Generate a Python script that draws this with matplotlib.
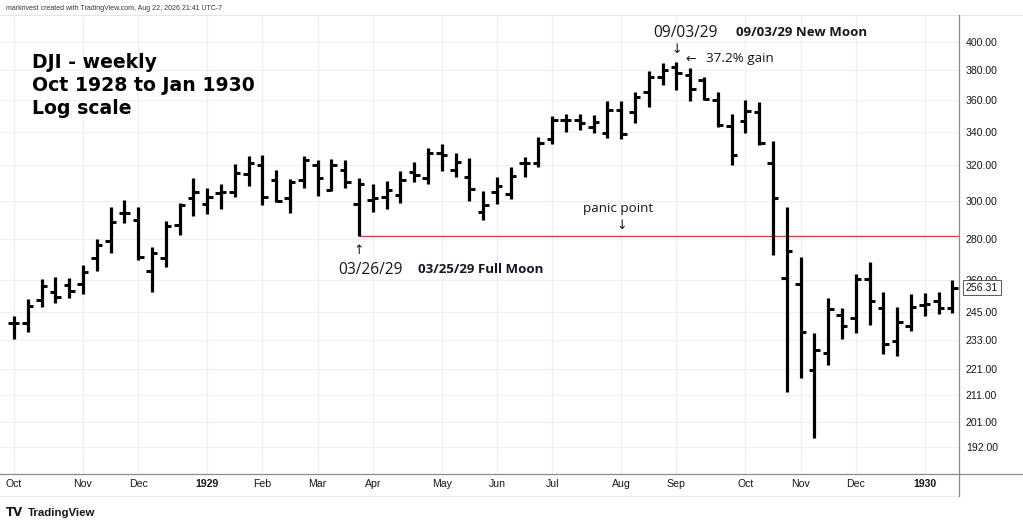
import matplotlib
matplotlib.use("Agg")
import matplotlib.pyplot as plt
import numpy as np
import pandas as pd
from matplotlib.lines import Line2D
from matplotlib.ticker import FixedLocator, NullLocator

# DJI weekly bars, Oct 1928 - Jan 1930
weeks = pd.date_range("1928-10-01", periods=69, freq="W-MON")

opens = [240.2, 240.2, 250.6, 254.1, 257.5, 257.8, 270.3, 279.0, 293.5, 289.7,
         264.2, 270.5, 287.1, 301.3, 298.0, 304.4, 304.9, 314.7, 320.0, 311.5,
         301.3, 311.5, 320.0, 305.9, 317.2, 298.0, 300.4, 301.8, 303.1, 316.2,
         312.4, 326.9, 317.2, 313.0, 294.1, 304.9, 303.5, 321.0, 321.0, 335.3,
         347.3, 347.3, 342.7, 339.0, 353.6, 352.5, 365.5, 375.6, 382.5, 376.8,
         373.4, 360.1, 343.5, 346.6, 352.5, 321.0, 260.9, 258.0, 220.7, 227.7,
         243.8, 242.4, 260.3, 246.8, 232.6, 239.2, 248.3, 250.1, 246.8]
highs = [243.5, 251.0, 260.2, 261.4, 260.6, 267.0, 279.7, 296.4, 300.4, 296.7,
         276.0, 289.3, 298.6, 312.8, 306.8, 309.0, 320.4, 325.3, 325.9, 317.2,
         311.9, 325.3, 323.0, 323.5, 323.0, 312.4, 309.0, 311.1, 316.6, 321.6,
         330.2, 332.5, 327.3, 324.0, 305.5, 313.3, 318.7, 324.5, 336.5, 350.1,
         351.1, 351.1, 350.4, 359.6, 359.6, 365.5, 379.7, 384.8, 386.1, 381.4,
         375.6, 365.5, 351.1, 360.1, 359.0, 334.3, 296.4, 270.7, 236.1, 251.6,
         247.1, 262.5, 268.3, 254.1, 247.5, 253.2, 253.6, 254.4, 259.8]
lows = [233.5, 236.6, 247.3, 249.1, 251.3, 253.3, 264.2, 272.7, 287.9, 269.4,
        254.1, 265.9, 282.0, 291.8, 292.7, 295.5, 302.2, 308.3, 297.7, 299.4,
        293.2, 307.1, 302.7, 305.3, 307.1, 281.5, 293.7, 295.5, 298.6, 310.5,
        309.2, 316.8, 313.3, 300.0, 289.7, 298.2, 300.8, 313.3, 319.1, 332.2,
        340.0, 341.0, 339.3, 335.9, 335.3, 345.6, 355.3, 370.0, 366.7, 359.4,
        360.1, 343.1, 320.0, 339.3, 331.9, 271.9, 212.0, 217.4, 195.0, 222.7,
        233.5, 235.9, 239.5, 227.1, 226.5, 236.9, 243.5, 244.2, 244.6]
closes = [240.5, 247.9, 257.2, 251.8, 254.8, 263.8, 276.8, 288.5, 293.2, 271.0,
          273.0, 286.5, 297.7, 304.9, 301.8, 304.9, 315.3, 321.0, 302.2, 299.8,
          310.5, 323.0, 312.4, 320.0, 310.5, 309.0, 301.3, 305.9, 311.5, 314.3,
          326.9, 325.9, 322.0, 306.3, 297.7, 308.1, 313.7, 321.4, 332.9, 347.3,
          347.0, 345.2, 346.2, 353.6, 338.6, 362.2, 375.6, 380.2, 377.9, 367.1,
          360.5, 344.1, 325.9, 353.2, 333.2, 301.6, 273.9, 236.6, 228.9, 246.5,
          239.0, 260.3, 250.1, 231.2, 240.9, 247.5, 248.6, 246.8, 256.31]

price_ticks = [192, 201, 211, 221, 233, 245, 260, 280, 300, 320, 340, 360, 380, 400]
title_lines = ["DJI - weekly", "Oct 1928 to Jan 1930", "Log scale"]
panic_idx = 25   # week of 03/26/29 (low = panic point)
top_idx = 48     # week of 09/03/29 (top)

W, H = 1023, 530
INK = "#131722"
ANNOT_FONT = ["Open Sans", "DejaVu Sans"]
AXIS_FONT = ["Liberation Sans", "DejaVu Sans"]


def pt(px):
    return px * 0.72


fig = plt.figure(figsize=(W / 100, H / 100), dpi=100)
fig.patch.set_facecolor("white")
ax = fig.add_axes([0, 56 / H, 959 / W, 459 / H])

x = np.arange(len(weeks))

# OHLC bars
ax.vlines(x, lows, highs, colors="black", linewidth=2.3, capstyle="butt", zorder=3)
ax.hlines(opens, x - 0.4, x, colors="black", linewidth=2.1, zorder=3)
ax.hlines(closes, x, x + 0.4, colors="black", linewidth=2.1, zorder=3)

# panic point line from the 03/26/29 low
panic = lows[panic_idx]
ax.hlines(panic, panic_idx, 80, colors="#f23645", linewidth=1.0, zorder=2)

ax.set_yscale("log")
ax.set_ylim(182.8, 420.1)
ax.set_xlim(-1.01, 68.48)

# y axis on the right
ax.yaxis.tick_right()
ax.yaxis.set_major_locator(FixedLocator(price_ticks))
ax.yaxis.set_minor_locator(NullLocator())
ax.set_yticklabels([f"{v:.2f}" for v in price_ticks], family=AXIS_FONT,
                   fontsize=7.6, color=INK)
ax.tick_params(axis="y", length=0, pad=pt(7))

# month ticks at first bar of each month
tick_pos, tick_lab = [], []
for i, d in enumerate(weeks):
    if i == 0 or d.month != weeks[i - 1].month:
        tick_pos.append(i)
        tick_lab.append(str(d.year) if d.month == 1 else d.strftime("%b"))
ax.set_xticks(tick_pos)
ax.set_xticklabels(tick_lab, family=AXIS_FONT, fontsize=7.6, color=INK)
for lab in ax.get_xticklabels():
    if lab.get_text().isdigit():
        lab.set_fontweight("bold")
ax.tick_params(axis="x", length=0, pad=pt(5))

ax.grid(True, color="#f0f0f0", linewidth=0.9, zorder=0)
ax.set_axisbelow(True)
for s in ax.spines.values():
    s.set_visible(False)


# frame lines (pixel coordinates of the layout)
def fig_line(x0, y0, x1, y1, color, lw=1.0):
    fig.add_artist(Line2D([x0 / W, x1 / W], [1 - y0 / H, 1 - y1 / H],
                          transform=fig.transFigure, color=color, linewidth=lw))


fig_line(0, 15, W, 15, "#e6e6e6", 0.8)
fig_line(0, 474, W, 474, "#8c8c8c", 0.9)
fig_line(0, 496, 959, 496, "#ececec", 0.8)
fig_line(959, 15, 959, 496, "#8c8c8c", 0.9)

# last price box (drawn over the 260 label, as in the source)
ax.annotate(f"{closes[-1]:.2f}", xy=(1, closes[-1]), xycoords=("axes fraction", "data"),
            xytext=(pt(7), 0), textcoords="offset points", ha="left", va="center",
            family=AXIS_FONT, fontsize=7.6, color=INK, zorder=10, annotation_clip=False,
            bbox=dict(boxstyle="square,pad=0.25", fc="white", ec="#555555", lw=0.7))

# title block
for k, line in enumerate(title_lines):
    fig.text(32 / W, 1 - (68.5 + 22.5 * k) / H, line, ha="left", va="baseline",
             family="DejaVu Sans", fontweight="bold", fontsize=13.6, color="black")


# annotations anchored to the bars
def note(text, xi, yv, dx, dy, size, weight="normal", ha="center", va="center"):
    ax.annotate(text, xy=(xi, yv), xytext=(pt(dx), pt(dy)), textcoords="offset points",
                ha=ha, va=va, family=ANNOT_FONT, fontsize=size, fontweight=weight,
                color=INK, annotation_clip=False)


top_hi = highs[top_idx]
note("↓", top_idx, top_hi, 0, 12, 9)
note("09/03/29", top_idx, top_hi, 9, 24.5, 11.2, va="baseline")
note("09/03/29 New Moon", top_idx, top_hi, 60, 26, 9.5, weight="bold", ha="left", va="baseline")
note("←", top_idx, top_hi, 14, 2.5, 9)
note("37.2% gain", top_idx, top_hi, 30, -0.5, 9.7, ha="left", va="baseline")

note("↑", panic_idx, panic, 0, -14.5, 9)
note("03/26/29", panic_idx, panic, 12, -38.5, 11.2, va="baseline")
note("03/25/29 Full Moon", panic_idx, panic, 59, -37.5, 9.5, weight="bold", ha="left", va="baseline")

note("↓", 44, panic, 1, 10, 9)
note("panic point", 44, panic, -3, 27.5, 9.7)

# header / footer
fig.text(6 / W, 1 - 8.5 / H, "markrivest created with TradingView.com, Aug 22, 2026 21:41 UTC-7",
         ha="left", va="center", family=AXIS_FONT, fontsize=5.0, color="#333333")
fig.text(6 / W, 1 - 512.5 / H, "TV", ha="left", va="center", family="DejaVu Sans",
         fontweight="heavy", fontsize=8.5, color=INK)
fig.text(27.5 / W, 1 - 512.5 / H, "TradingView", ha="left", va="center",
         family=AXIS_FONT, fontweight="bold", fontsize=8.2, color=INK)

fig.savefig("out.png", dpi=100, facecolor="white")
